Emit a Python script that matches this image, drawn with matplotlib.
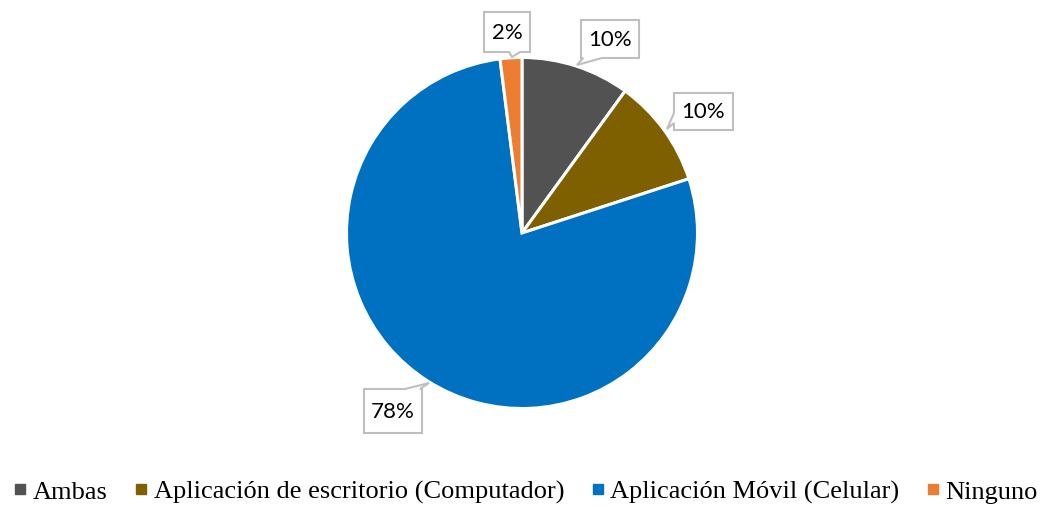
import matplotlib
matplotlib.use("Agg")
import matplotlib.pyplot as plt
from matplotlib.patches import Polygon
from matplotlib.lines import Line2D

categories = ["Ambas", "Aplicación de escritorio (Computador)",
              "Aplicación Móvil (Celular)", "Ninguno"]
values = [10, 10, 78, 2]
labels = ["10%", "10%", "78%", "2%"]
colors = ["#525252", "#7F6000", "#0070C0", "#ED7D31"]

W, H = 1052, 508
fig = plt.figure(figsize=(W / 100, H / 100), dpi=100)
ax = fig.add_axes([0, 0, 1, 1])

cx, cy, r = 522, H - 233, 175.5
ax.pie(values, colors=colors, startangle=90, counterclock=False,
       center=(cx, cy), radius=r, frame=True,
       wedgeprops=dict(edgecolor="white", linewidth=2.2))
ax.set_xlim(0, W)
ax.set_ylim(0, H)
ax.set_aspect("equal")
ax.axis("off")

def Y(y):
    return H - y

# callout boxes: (x0, y0, x1, y1), tail side, tail base (a, b), tip (x, y) in image pixels
callouts = [
    ((581, 20, 639, 58), "bottom", (583, 602), (577, 65)),
    ((674, 93, 733, 130), "left", (113, 123), (667, 129)),
    ((364, 389, 422, 433), "top", (405, 420), (429, 383)),
    ((484, 12, 530, 52), "bottom", (509, 520), (512, 57)),
]

for (box, side, base, tip), lab in zip(callouts, labels):
    x0, y0, x1, y1 = box
    if side == "bottom":
        pts = [(x0, y0), (x1, y0), (x1, y1), (base[1], y1), tip, (base[0], y1), (x0, y1)]
    elif side == "top":
        pts = [(x0, y0), (base[0], y0), tip, (base[1], y0), (x1, y0), (x1, y1), (x0, y1)]
    else:
        pts = [(x0, y0), (x1, y0), (x1, y1), (x0, y1), (x0, base[1]), tip, (x0, base[0])]
    pts = [(px, Y(py)) for px, py in pts]
    ax.add_patch(Polygon(pts, closed=True, facecolor="white",
                         edgecolor="#BFBFBF", linewidth=1.5, zorder=5))
    ax.text((x0 + x1) / 2, Y((y0 + y1) / 2) - 1, lab, ha="center", va="center",
            fontsize=16, family=["Lato", "DejaVu Sans"], color="#000000", zorder=6)

handles = [Line2D([], [], marker="s", linestyle="none", markersize=7,
                  markerfacecolor=c, markeredgecolor=c) for c in colors]
fig.legend(handles, categories, loc="center", bbox_to_anchor=(0.5, 1 - 492 / H),
           ncol=4, frameon=False, prop=dict(family="Liberation Serif", size=19),
           handlelength=0.45, handletextpad=0.25, columnspacing=1.05)

fig.savefig("out.png", dpi=100, facecolor="white")
